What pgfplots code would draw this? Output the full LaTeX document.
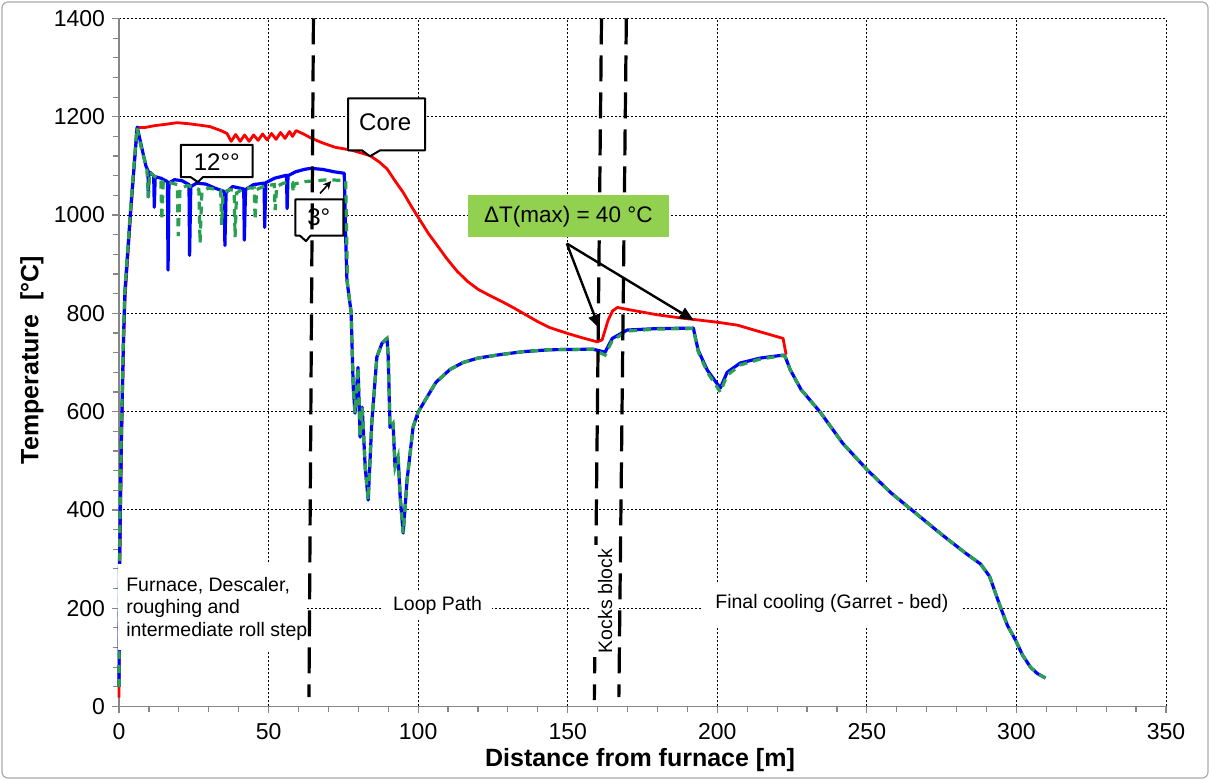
\documentclass[border=0pt]{standalone}
\usepackage{fontspec}
\setmainfont{Liberation Sans}
\usepackage{pgfplots}
\pgfplotsset{compat=1.18}
\usetikzlibrary{arrows.meta}
\definecolor{cred}{RGB}{255,0,0}
\definecolor{cblue}{RGB}{0,0,255}
\definecolor{cgreen}{RGB}{40,160,80}
\definecolor{dtgreen}{RGB}{146,208,80}
\definecolor{axgray}{RGB}{134,134,134}
\newcommand\annot{\fontsize{9.75}{11}\selectfont}
\begin{document}
\begin{tikzpicture}[x=1pt,y=1pt]
\path[use as bounding box] (0,0) rectangle (605,390);
\draw[axgray!70, line width=0.6pt, rounded corners=3pt] (1,1) rectangle (604,389);
\begin{axis}[
  at={(59.5pt,36.75pt)}, anchor=south west,
  scale only axis, width=523.5pt, height=344pt,
  xmin=0, xmax=350, ymin=0, ymax=1400,
  axis lines*=left,
  axis line style={axgray, line width=0.6pt},
  xtick={0,50,...,350}, ytick={0,200,...,1400},
  minor x tick num=4, minor y tick num=4,
  tick align=outside, major tick length=3.5pt, minor tick length=3pt,
  tick style={axgray, line width=0.6pt},
  grid=major,
  major grid style={black, line width=0.5pt, dash pattern=on 1pt off 1pt},
  /pgf/number format/assume math mode=true,
  /pgf/number format/1000 sep={},
  tick label style={font=\fontsize{11.5}{13}\selectfont},
  xticklabel style={yshift=-1.5pt},
  xlabel={Distance from furnace [m]},
  ylabel={Temperature\ \ [°C]},
  label style={font=\fontsize{12.5}{15}\selectfont\bfseries},
  xlabel style={at={(axis description cs:0.4976,-0.0778)}, anchor=center},
  ylabel style={at={(axis description cs:-0.0831,0.5036)}, anchor=center},
  clip=false,
]
% Core temperature
\addplot[cred, line width=1.4pt, line join=round] coordinates {
(0,18) (0.2,250) (0.8,520) (1.5,730) (2,830) (4,1010) (6,1178) (8.5,1178) (12,1182) (16,1185) (19.4,1188) (23,1186) (27,1183) (30.4,1180) (34,1172) (36.1,1166) (37.5,1150) (39,1164) (40.5,1150) (42,1163) (43.5,1150) (45,1163) (46.5,1152) (48,1165) (49.5,1153) (51,1166) (52.5,1154) (54,1168) (55.5,1156) (57,1170) (58,1160) (59.2,1172) (62,1164) (64.4,1156) (68,1147) (72.2,1138) (77.8,1132) (83.9,1121) (87,1108) (89.6,1094) (92,1072) (95,1046) (98,1015) (100.7,989) (103.5,962) (106.4,938) (109.5,912) (113,886) (116.5,865) (120,849) (124,836) (128,824) (132,811) (136,797) (140,783) (144,771) (150,759) (155,750) (159.9,742) (161.5,746) (163.5,786) (165,805) (166.6,812) (170,808) (180,797) (188.6,790) (200,782) (206.7,776) (214,763) (222,749) (223,716)
};
% Surface (blue)
\addplot[cblue, line width=1.6pt, line join=round] coordinates {
(0,40) (0.2,300) (0.8,550) (1.5,750) (2,847) (4,1020) (6.1,1179) (7.5,1140) (9,1100) (9.7,1090) (9.8,1037) (10.0,1088) (11.6,1080) (11.8,1016) (12.1,1078) (14,1075) (16.2,1068) (16.4,888) (16.7,1065) (18.5,1072) (21,1070) (23.4,1062) (23.6,918) (24,1058) (26,1065) (29,1063) (32,1055) (35.2,1048) (35.4,938) (35.8,1046) (38,1058) (41.7,1053) (41.9,949) (42.3,1052) (45,1062) (48.5,1065) (48.7,975) (49.1,1066) (52,1075) (56,1081) (56.2,1013) (56.5,1080) (59,1088) (62,1093) (64,1095) (68,1093) (72,1088) (75.3,1085) (75.8,950) (76.2,867) (77.6,802) (78.3,650) (78.9,597) (79.9,690) (80.6,548) (81.3,609) (82.3,487) (83.3,420) (84.5,577) (86.2,711) (87.9,739) (89.6,749) (90.0,711) (90.6,568) (91.6,576) (92.3,487) (93.3,508) (94.0,426) (95.0,353) (96.3,461) (98.3,568) (100,599) (103,630) (106,660) (110.7,686) (115,700) (120,709) (127.4,716) (135,722) (144,726) (158.5,727) (162.5,721) (164.9,749) (169.9,766) (180,769) (192,770) (193.6,725) (196.7,684) (201,648) (203.3,680) (207.7,699) (214.4,709) (222,715) (222.7,712) (224.4,685) (228,645) (234.4,599) (242,535) (250.2,481) (258,435) (266,395) (275,350) (283,312) (288,290) (291,265) (294.6,203) (297,165) (299.7,135) (302,105) (304.7,80) (307,67) (309.7,58)
};
% Surface (green dashed)
\addplot[cgreen, line width=1.6pt, dash pattern=on 4pt off 3pt] coordinates {
(0,40) (0.2,330) (0.8,570) (1.5,760) (2,850) (4,1025) (6,1178) (7.5,1135) (9.3,1095) (9.8,1035) (10.3,1088) (12,1078) (14.0,1072) (14.3,990) (14.8,1068) (17,1066) (19.5,1062) (19.8,957) (20.4,1055) (23,1060) (26.7,1052) (27.1,943) (27.7,1048) (30,1055) (34,1050) (34.3,980) (34.8,1045) (37,1052) (38.5,1050) (38.8,955) (39.3,1045) (42,1055) (45.2,1055) (45.5,990) (46,1052) (49,1060) (51.9,1062) (52.2,1010) (52.7,1058) (55,1065) (58,1066) (58.2,1047) (58.6,1063) (62,1068) (66,1070) (70,1072) (75.8,1070) (76.4,860) (77.6,802) (78.3,650) (78.9,597) (79.9,690) (80.6,548) (81.3,609) (82.3,487) (83.3,420) (84.5,577) (86.2,711) (87.9,739) (89.6,749) (90.0,711) (90.6,568) (91.6,576) (92.3,487) (93.3,508) (94.0,426) (95.0,353) (96.3,461) (98.3,568) (100,599) (103,630) (106,660) (110.7,686) (115,700) (120,709) (127.4,716) (135,722) (144,726) (158.5,727) (162.5,715) (164.9,745) (169.9,764) (180,768) (192,769) (193.6,722) (196.7,680) (201,640) (203.3,674) (207.7,695) (214.4,707) (222,714) (222.7,712) (224.4,685) (228,645) (234.4,599) (242,535) (250.2,481) (258,435) (266,395) (275,350) (283,312) (288,290) (291,265) (294.6,203) (297,165) (299.7,135) (302,105) (304.7,80) (307,67) (309.7,58)
};
% callouts
\draw[fill=white, line width=1pt, line join=round] (axis cs:76.6,1237.5) -- (axis cs:102.3,1237.5) -- (axis cs:102.3,1131.8) -- (axis cs:87.3,1131.8) -- (axis cs:83.9,1119.6) -- (axis cs:81.2,1131.8) -- (axis cs:76.6,1131.8) -- cycle;
\node[font=\fontsize{12}{14}\selectfont] at (axis cs:89,1188) {Core};
\draw[fill=white, line width=1pt, line join=round] (axis cs:20.7,1143) -- (axis cs:44.7,1143) -- (axis cs:44.7,1077) -- (axis cs:28,1077) -- (axis cs:26.4,1067) -- (axis cs:24,1077) -- (axis cs:20.7,1077) -- cycle;
\node[font=\fontsize{12}{14}\selectfont] at (axis cs:32.7,1108) {12°°};
\draw[fill=white, line width=1pt, line join=round] (axis cs:59,1032) -- (axis cs:75,1032) -- (axis cs:75,958) -- (axis cs:64,958) -- (axis cs:62.5,947) -- (axis cs:60.5,958) -- (axis cs:59,958) -- cycle;
\node[font=\fontsize{12}{14}\selectfont] at (axis cs:66.8,996) {3°};
\draw[-{Stealth[length=4pt,width=4pt]}, line width=0.8pt] (axis cs:67.2,1044) -- (axis cs:70.9,1069);
% region labels
\fill[white] (axis cs:-0.4,290) rectangle (axis cs:63.0,115);
\node[anchor=base west, inner sep=0pt, font=\annot] at (axis cs:2.3,233.5) {Furnace, Descaler,};
\node[anchor=base west, inner sep=0pt, font=\annot] at (axis cs:2.3,189.5) {roughing and};
\node[anchor=base west, inner sep=0pt, font=\annot] at (axis cs:2.3,143.4) {intermediate roll step};
\fill[white] (axis cs:88.3,236) rectangle (axis cs:124.7,176);
\node[anchor=base, inner sep=0pt, font=\annot] at (axis cs:106.5,195) {Loop Path};
\fill[white] (axis cs:195.3,251) rectangle (axis cs:281.6,162);
\node[anchor=base, inner sep=0pt, font=\annot] at (axis cs:238.3,199.7) {Final cooling (Garret - bed)};
% section boundaries
\draw[black, line width=1.6pt, dash pattern=on 13pt off 5.5pt] (axis cs:65.0,1400) -- (axis cs:63.5,19);
\draw[black, line width=1.6pt, dash pattern=on 13pt off 5.5pt] (axis cs:161.3,1400) -- (axis cs:158.9,13);
\draw[black, line width=1.6pt, dash pattern=on 13pt off 5.5pt] (axis cs:169.6,1400) -- (axis cs:167.1,19);
\fill[white] (axis cs:157.5,328.5) rectangle (axis cs:166.6,100.7);
\node[rotate=90, inner sep=0pt, font=\annot] at (axis cs:162.5,214.6) {Kocks block};
% Delta T annotation
\fill[dtgreen] (axis cs:116.7,1040.3) rectangle (axis cs:183.9,954.9);
\node[font=\fontsize{11.25}{13}\selectfont] at (axis cs:150.2,997.5) {ΔT(max) = 40 °C};
\draw[-{Triangle[length=7pt,width=6pt]}, line width=1.2pt] (axis cs:149.7,942) -- (axis cs:160.6,769);
\draw[-{Triangle[length=7pt,width=6pt]}, line width=1.2pt] (axis cs:149.7,942) -- (axis cs:192.1,786);
\end{axis}
\end{tikzpicture}
\end{document}
